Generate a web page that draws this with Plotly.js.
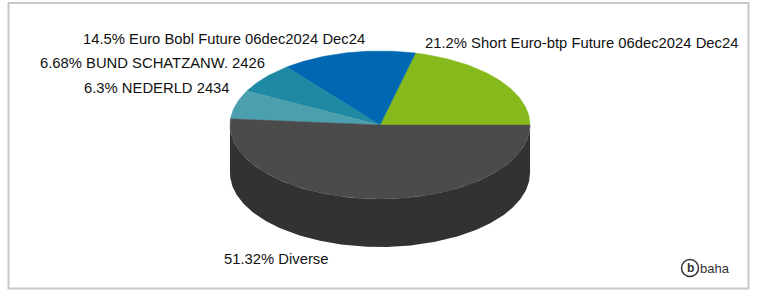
<!DOCTYPE html>
<html><head><meta charset="utf-8">
<script src="https://cdn.plot.ly/plotly-3.0.1.min.js"></script>
<style>html,body{margin:0;padding:0;background:#fff}#c{width:757px;height:291px}</style>
</head><body><div id="c"></div>
<script>
const labels = ["Short Euro-btp Future 06dec2024 Dec24", "Euro Bobl Future 06dec2024 Dec24", "BUND SCHATZANW. 2426", "NEDERLD 2434", "Diverse"];
const values = [21.2, 14.5, 6.68, 6.3, 51.32];
const valueText = ["21.2%", "14.5%", "6.68%", "6.3%", "51.32%"];
const colors = ["#86b91c", "#0068b3", "#1f88a3", "#4b9fae", "#4b4b4b"];

const cx = 380, cy = 125, rx = 150, ry = 74, depth = 48;
const total = values.reduce((a, b) => a + b, 0);
function pt(deg, dy) {
  const r = deg * Math.PI / 180;
  return [cx + rx * Math.cos(r), cy + (dy || 0) - ry * Math.sin(r)];
}
const traces = [];
{
  const xs = [], ys = [];
  for (let d = 180; d <= 360; d += 1) { const p = pt(d, 0); xs.push(p[0]); ys.push(p[1]); }
  for (let d = 360; d >= 180; d -= 1) { const p = pt(d, depth); xs.push(p[0]); ys.push(p[1]); }
  traces.push({type: "scatter", x: xs, y: ys, fill: "toself", fillcolor: "#323232", mode: "lines", line: {width: 0, color: "#323232"}, hoverinfo: "skip", showlegend: false});
}
let start = 0;
values.forEach((v, i) => {
  const a0 = start, a1 = start + v / total * 360;
  start = a1;
  const xs = [cx], ys = [cy];
  const n = Math.max(4, Math.ceil((a1 - a0) / 1));
  for (let k = 0; k <= n; k++) { const p = pt(a0 + (a1 - a0) * k / n); xs.push(p[0]); ys.push(p[1]); }
  xs.push(cx); ys.push(cy);
  traces.push({type: "scatter", x: xs, y: ys, fill: "toself", fillcolor: colors[i], mode: "lines", line: {width: 0.5, color: colors[i]}, hoverinfo: "skip", showlegend: false, name: labels[i]});
});

const labelPos = [
  {x: 423, y: 43}, {x: 81, y: 39}, {x: 38, y: 63}, {x: 82, y: 88}, {x: 222, y: 259}
];
const annotations = labels.map((l, i) => ({
  text: valueText[i] + " " + l, x: labelPos[i].x, y: labelPos[i].y, xref: "x", yref: "y",
  xanchor: "left", yanchor: "middle", showarrow: false,
  font: {family: "Liberation Sans, Arial, sans-serif", size: 14.8, color: "#111"}
}));
annotations.push({text: "<b>b</b>", x: 690, y: 268, xref: "x", yref: "y", showarrow: false, xanchor: "center", yanchor: "middle", font: {family: "Liberation Sans, Arial", size: 12, color: "#333"}});
annotations.push({text: "baha", x: 698, y: 268, xref: "x", yref: "y", showarrow: false, xanchor: "left", yanchor: "middle", font: {family: "Liberation Sans, Arial", size: 13, color: "#333"}});

const layout = {
  width: 757, height: 291, margin: {l: 0, r: 0, t: 0, b: 0},
  paper_bgcolor: "#fff", plot_bgcolor: "#fff",
  xaxis: {range: [0, 757], visible: false, fixedrange: true},
  yaxis: {range: [291, 0], visible: false, fixedrange: true},
  showlegend: false,
  annotations: annotations,
  shapes: [
    {type: "rect", xref: "x", yref: "y", x0: 8.5, y0: 3, x1: 748.5, y1: 288.5, line: {color: "#c8c8c8", width: 2}, fillcolor: "rgba(0,0,0,0)"},
    {type: "circle", xref: "x", yref: "y", x0: 681.5, y0: 259.5, x1: 698.5, y1: 276.5, line: {color: "#333", width: 1.5}}
  ]
};
Plotly.newPlot("c", traces, layout, {staticPlot: true, displayModeBar: false});
</script></body></html>
